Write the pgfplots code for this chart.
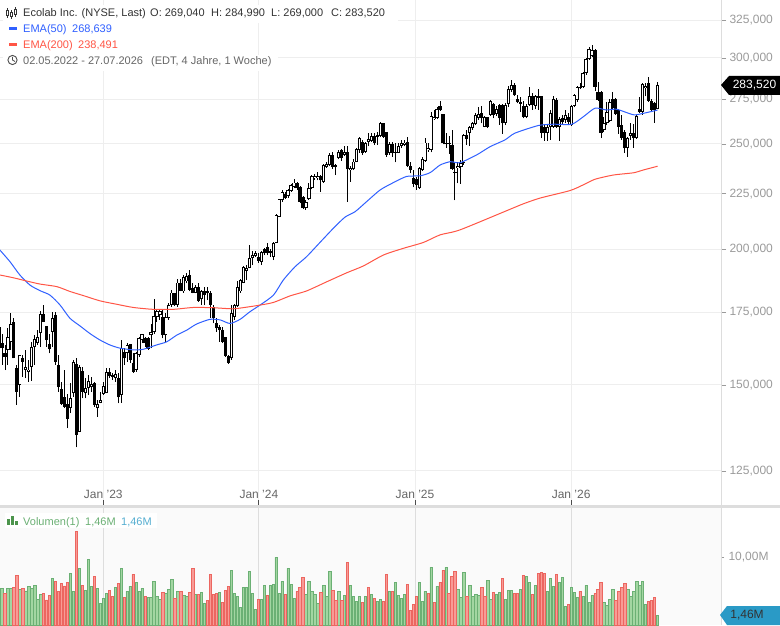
\documentclass[border=0pt]{standalone}
\usepackage{pgfplots}
\pgfplotsset{compat=1.18}
\usepackage{pgfplotstable}
\usepackage{fontspec}
\setmainfont{Liberation Sans}
\definecolor{lab}{HTML}{9A9A9A}
\definecolor{gridc}{HTML}{EEEEEE}
\definecolor{bandc}{HTML}{DDDDDD}
\definecolor{emab}{HTML}{3060FF}
\definecolor{emar}{HTML}{FF5545}
\definecolor{gfill}{HTML}{A3D6A2}
\definecolor{gline}{HTML}{6BB074}
\definecolor{rfill}{HTML}{F89B96}
\definecolor{rline}{HTML}{EC6660}
\definecolor{teal}{HTML}{2A9AC6}
\pgfplotstableread{
k o h l c
0 169.7 174.0 160.4 162.1
1 163.9 167.3 156.5 162.1
2 160.4 163.3 154.8 159.3
3 161.6 169.1 156.5 166.0
4 164.4 174.6 161.6 170.7
5 171.5 172.8 158.7 158.7
6 155.4 156.5 143.8 147.9
7 150.0 159.7 146.3 159.7
8 159.0 159.7 152.7 157.6
9 155.0 161.6 152.2 155.7
10 154.2 158.2 151.1 155.0
11 155.9 164.4 151.4 162.7
12 162.7 166.7 156.5 165.4
13 164.1 168.5 163.3 166.2
14 167.5 175.6 162.7 174.2
15 174.2 177.7 171.6 171.6
16 170.0 170.0 162.7 165.0
17 163.6 167.3 160.4 161.8
18 167.9 175.2 162.7 172.8
19 174.0 175.2 156.5 157.6
20 156.5 159.7 147.9 149.3
21 148.6 151.1 143.8 144.1
22 146.3 154.8 142.8 143.3
23 144.1 147.2 136.9 139.5
24 142.8 150.5 141.3 145.8
25 147.4 158.2 146.3 157.6
26 156.7 159.0 131.4 134.9
27 135.9 156.5 135.9 155.9
28 154.6 155.9 145.8 147.9
29 147.4 152.1 145.8 149.0
30 149.0 153.2 146.9 151.4
31 149.3 152.7 147.9 150.2
32 150.7 151.1 143.3 143.8
33 142.8 145.3 140.3 144.1
34 144.5 147.9 144.3 145.3
35 147.2 151.1 146.9 149.7
36 147.4 155.4 147.4 154.2
37 154.2 155.4 152.2 152.9
38 153.2 153.7 151.6 152.5
39 152.2 154.8 151.1 153.5
40 152.2 153.7 144.3 146.1
41 146.9 165.0 144.5 162.1
42 161.0 162.1 156.5 158.7
43 160.6 163.9 157.6 163.3
44 163.6 163.6 157.1 158.0
45 157.1 160.4 153.9 154.2
46 155.0 161.0 154.2 160.4
47 159.9 165.9 159.3 165.6
48 165.0 167.3 163.9 167.0
49 165.6 165.9 162.7 163.9
50 165.6 165.9 161.6 161.8
51 166.7 170.7 162.1 167.7
52 167.7 179.9 167.3 173.6
53 173.4 176.0 171.6 175.5
54 174.0 175.8 172.2 175.6
55 173.4 175.8 165.6 166.7
56 166.7 174.6 164.4 173.2
57 172.8 178.3 172.2 177.7
58 177.7 183.5 177.1 182.5
59 182.5 182.5 177.3 177.7
60 177.7 187.7 177.1 186.4
61 186.1 187.7 182.9 183.2
62 182.9 189.4 182.5 188.7
63 186.8 190.1 186.1 189.0
64 189.4 191.4 182.9 183.5
65 184.2 186.1 182.2 182.5
66 182.5 185.5 182.2 184.8
67 184.5 186.1 179.0 179.3
68 179.9 183.5 177.7 182.9
69 182.9 184.5 177.7 181.5
70 182.9 184.8 179.6 182.2
71 182.5 182.9 172.8 177.7
72 177.1 177.7 170.9 172.8
73 171.2 172.8 167.9 169.1
74 169.5 170.3 164.4 168.5
75 168.7 169.5 163.9 164.4
76 165.9 165.9 159.3 159.5
77 159.5 159.7 156.9 157.3
78 158.7 177.7 158.2 174.6
79 173.4 178.2 172.2 177.6
80 177.2 186.8 177.0 184.5
81 182.9 187.7 182.5 187.4
82 186.4 193.0 186.1 192.5
83 191.1 193.4 187.4 192.1
84 192.1 201.8 192.1 196.4
85 196.2 199.3 193.4 197.6
86 197.3 199.3 196.9 198.3
87 196.9 198.3 194.4 195.2
88 194.8 199.3 193.4 199.0
89 200.0 200.4 197.6 198.3
90 201.1 202.6 197.6 198.3
91 199.4 200.0 196.9 198.3
92 196.9 203.3 195.5 202.6
93 202.6 215.6 202.6 215.1
94 214.3 222.7 214.3 222.4
95 222.1 226.8 221.3 226.0
96 224.9 226.0 222.4 222.9
97 223.7 227.1 222.9 226.8
98 226.5 229.7 226.0 229.2
99 228.4 232.0 227.6 230.4
100 230.0 230.9 226.8 227.6
101 228.4 228.7 220.6 221.3
102 223.4 223.7 217.7 218.2
103 218.2 221.8 217.4 221.0
104 222.4 230.0 222.1 227.6
105 227.6 234.1 227.1 233.7
106 232.5 234.6 231.7 233.7
107 232.5 235.8 231.4 233.7
108 233.7 234.1 226.0 231.4
109 230.9 239.6 230.4 238.9
110 238.0 240.9 237.5 239.6
111 239.1 245.4 238.5 244.3
112 244.3 245.6 237.2 238.0
113 239.1 239.6 234.0 238.0
114 242.5 246.9 242.0 246.0
115 246.6 247.3 241.3 242.5
116 244.3 248.7 243.8 245.9
117 246.0 249.0 221.3 236.9
118 236.6 238.5 230.9 237.8
119 236.9 242.0 236.6 240.9
120 240.7 247.8 240.4 247.3
121 246.9 253.6 245.2 253.1
122 251.3 252.2 244.3 245.2
123 246.0 251.3 245.2 250.4
124 251.3 256.0 248.7 252.6
125 251.8 256.0 251.3 254.4
126 254.4 256.0 249.5 250.8
127 254.0 256.7 249.5 254.9
128 254.4 262.2 253.6 261.2
129 261.5 261.5 253.4 254.0
130 256.7 256.7 243.4 244.3
131 245.2 251.3 244.3 250.0
132 250.0 251.3 243.4 245.2
133 245.2 250.4 240.4 246.0
134 245.5 250.4 245.2 249.0
135 249.0 252.2 247.8 250.4
136 249.5 252.2 248.7 250.8
137 251.0 253.6 238.0 238.5
138 238.5 240.4 234.9 236.6
139 232.5 236.6 228.0 229.7
140 232.0 233.0 226.8 229.2
141 227.6 237.9 227.4 237.4
142 236.6 243.4 236.2 242.0
143 241.3 253.1 240.9 250.8
144 246.6 250.4 246.0 247.8
145 246.9 267.7 245.6 265.2
146 263.5 268.7 263.1 264.8
147 264.0 270.6 263.5 269.1
148 271.0 273.9 268.3 268.7
149 266.3 266.7 249.8 250.4
150 249.8 255.8 247.9 250.8
151 250.8 254.3 244.9 249.8
152 249.5 257.6 236.6 236.9
153 235.4 240.9 221.8 235.8
154 237.6 240.9 230.0 238.6
155 238.2 241.7 229.7 240.0
156 240.0 255.4 239.2 254.9
157 254.9 257.6 249.6 252.6
158 256.1 259.5 248.9 259.0
159 258.4 262.2 257.6 261.2
160 260.8 266.8 260.2 265.9
161 264.0 270.2 263.1 266.4
162 267.1 271.0 261.2 264.0
163 259.4 265.2 259.0 264.5
164 264.5 265.0 258.5 259.4
165 265.9 274.5 265.4 274.1
166 272.1 272.5 264.0 265.9
167 266.4 271.0 265.4 269.1
168 271.6 272.1 260.4 264.0
169 271.6 272.1 255.4 261.2
170 261.6 272.5 260.2 271.6
171 272.1 282.6 270.6 280.8
172 280.4 286.4 279.4 283.4
173 283.4 284.4 276.9 277.1
174 274.9 277.5 272.5 273.2
175 272.3 275.9 267.7 273.0
176 271.0 273.6 264.0 264.9
177 264.9 272.1 264.0 271.0
178 271.6 282.4 271.0 276.9
179 276.9 278.4 268.7 271.6
180 271.0 277.5 269.1 276.9
181 275.5 280.8 268.7 276.5
182 276.9 276.9 253.1 256.0
183 259.4 260.2 251.8 256.0
184 256.0 260.2 251.8 259.4
185 259.0 268.7 252.2 266.8
186 259.4 276.9 258.5 274.9
187 274.5 275.5 258.5 259.4
188 259.4 264.5 251.8 263.5
189 264.0 265.9 260.2 262.2
190 263.1 268.7 261.6 265.9
191 264.5 266.8 260.2 262.2
192 260.2 271.6 259.6 271.0
193 271.0 278.0 270.2 277.5
194 274.5 282.8 273.5 282.0
195 281.4 284.8 280.8 282.0
196 282.0 291.5 281.4 290.8
197 290.4 299.9 289.4 299.2
198 299.2 307.0 298.8 305.6
199 301.3 308.5 300.9 305.2
200 305.2 305.6 280.0 282.4
201 279.4 285.4 274.1 274.5
202 279.4 279.8 253.1 256.0
203 257.6 264.5 256.5 261.2
204 261.2 273.5 260.2 267.7
205 262.7 274.9 262.2 273.5
206 274.9 279.4 268.7 269.7
207 274.9 275.5 265.9 266.4
208 268.7 269.1 255.4 259.4
209 260.4 265.9 252.2 253.1
210 256.5 257.6 245.2 247.8
211 248.1 253.8 243.4 253.1
212 254.3 261.2 252.2 255.8
213 255.8 260.8 248.1 253.1
214 253.1 265.9 252.6 265.3
215 269.1 276.4 267.1 267.7
216 267.7 284.4 265.9 283.8
217 281.4 284.4 276.5 282.8
218 284.8 288.0 273.5 274.1
219 273.9 274.9 267.7 268.7
220 272.9 273.5 261.6 268.7
221 269.04 284.99 269.0 283.52
}\candles
\pgfplotstableread{
k v
0.3 199.7
3.7 194.8
7.0 189.4
10.4 185.4
13.8 183.2
17.1 181.5
20.5 177.7
23.8 172.8
27.2 170.0
30.5 167.3
33.9 165.0
37.2 163.3
40.6 162.2
45.1 161.6
48.4 161.8
52.9 163.3
56.3 164.4
59.6 166.7
63.0 168.5
66.3 170.7
70.8 172.4
74.2 172.2
77.5 170.9
80.9 172.4
84.2 175.2
87.6 177.7
92.1 181.5
95.4 187.4
99.3 192.7
103.2 196.9
107.7 202.9
112.2 209.1
116.1 214.1
119.5 216.6
123.4 221.3
127.9 226.8
132.4 230.4
136.8 233.4
141.3 233.7
144.7 235.3
148.0 239.1
151.4 240.8
154.7 240.3
160.3 244.3
164.8 248.6
169.8 252.2
173.1 255.8
181.0 260.0
186.0 260.7
192.2 260.7
196.1 264.9
200.0 269.7
203.9 268.7
207.3 269.1
212.9 266.0
216.2 266.8
221 268.639
}\emafifty
\pgfplotstableread{
k v
0.3 189.4
4.8 188.3
9.3 187.0
13.8 185.8
19.4 184.8
23.8 182.9
28.3 181.3
33.9 179.3
39.5 178.0
45.1 176.8
51.8 176.1
58.5 176.1
65.2 176.8
71.9 176.7
78.6 176.3
84.2 177.1
87.6 177.7
92.1 178.7
97.7 181.2
103.2 183.1
110 186.7
116.7 190.3
122.3 193.1
129 197.6
135.7 200.4
142.4 202.9
148 206.2
154.7 208.4
171.5 217.7
175.9 220.2
181.5 222.9
191.6 226.5
196.1 229.3
200 232.0
206.2 234.1
212.9 235.2
216.2 236.6
221 238.491
}\ematwohundred
\pgfplotstableread{
k v
1 5.39
3 5.39
4 5.39
7 5.25
9 5.00
10 5.69
11 5.39
12 5.83
13 3.77
14 4.51
18 6.86
24 7.60
25 4.95
27 8.33
29 5.10
30 9.66
31 5.69
33 5.39
34 3.19
35 3.92
36 4.66
39 5.54
41 8.33
43 4.95
44 5.69
46 6.27
47 4.95
48 5.39
50 4.07
51 4.07
52 6.42
53 4.22
54 3.77
56 4.66
57 5.25
58 6.72
60 4.95
62 4.36
63 4.22
66 4.51
68 4.80
69 3.19
74 4.80
78 8.04
79 4.66
80 4.22
81 2.60
82 5.54
83 5.54
84 7.89
85 4.66
86 2.30
88 3.77
89 5.83
91 5.83
92 5.98
93 9.95
94 4.66
95 6.42
97 8.33
98 5.98
99 3.92
103 4.51
104 6.42
105 4.95
106 4.51
107 3.19
109 5.83
110 4.22
111 7.89
114 4.95
116 4.36
118 5.83
119 4.22
120 3.48
121 4.22
123 4.22
125 4.51
127 3.48
128 3.77
131 4.95
133 6.27
134 4.36
135 3.92
136 4.51
141 6.27
142 3.48
143 4.95
145 8.48
147 5.69
150 8.48
154 5.25
155 4.07
156 7.75
158 5.83
159 4.22
160 4.51
161 4.36
164 6.57
165 3.77
167 4.51
168 4.80
170 3.77
171 5.10
172 5.10
175 5.25
177 7.16
178 6.27
180 5.83
184 4.95
185 6.86
186 5.69
188 6.27
189 7.01
190 2.75
192 5.54
193 4.80
194 4.07
196 4.22
197 5.83
198 3.33
199 4.36
203 3.33
204 2.89
205 3.77
206 5.25
211 5.25
212 4.22
213 4.95
214 6.42
215 5.83
216 6.42
217 3.04
221 1.46
}\volup
\pgfplotstableread{
k v
2 4.66
5 5.54
6 7.30
8 5.39
15 4.66
16 3.68
17 4.36
19 6.42
20 4.95
21 6.13
22 5.74
23 6.27
26 13.77
28 5.83
32 7.16
37 5.10
38 4.22
40 6.13
42 4.07
45 7.45
49 4.22
55 4.80
59 3.92
61 4.95
64 4.80
65 8.33
67 4.51
70 3.63
71 7.45
72 4.51
73 4.66
75 3.33
76 5.10
77 5.69
87 3.77
90 4.36
96 4.51
100 4.95
101 5.54
102 7.01
108 4.80
112 5.10
113 3.63
115 3.63
117 9.22
122 3.33
124 5.54
126 3.92
129 3.48
130 7.45
132 4.95
137 5.98
138 2.16
139 3.04
140 4.22
144 4.66
146 3.33
148 6.27
149 8.04
151 4.66
152 7.16
153 7.89
157 4.22
162 5.54
163 4.22
166 4.80
169 6.86
173 4.66
174 4.66
176 7.30
179 4.51
181 7.60
182 7.75
183 7.60
187 7.45
191 3.04
195 4.95
200 4.66
201 5.25
202 6.27
207 3.63
208 4.95
209 5.54
210 6.13
218 3.48
219 3.63
220 4.07
}\voldown
\newcommand{\fs}{\fontsize{11}{14}\selectfont}
\begin{document}
\begin{tikzpicture}[x=1pt,y=1pt]
\path[use as bounding box] (0,0) rectangle (780,625);
\begin{axis}[
  at={(0pt,120pt)}, anchor=south west, scale only axis, width=721pt, height=505pt,
  ymode=log, log basis y=10,
  xmin=0.336, xmax=242.28, ymin=116.31, ymax=339.28,
  axis line style={draw=none},
  xtick={35,87.2,139.6,192},
  xticklabels={Jan '23,Jan '24,Jan '25,Jan '26},
  ytick={125,150,175,200,225,250,275,300,325},
  minor ytick={},
  yticklabels={{125,000},{150,000},{175,000},{200,000},{225,000},{250,000},{275,000},{300,000},{325,000}},
  ytick pos=right, yticklabel pos=right,
  xtick pos=bottom,
  xmajorgrids, ymajorgrids,
  grid style={gridc, line width=1pt},
  tick style={line width=0.8pt},
  major tick length=5pt,
  xtick align=inside, ytick align=outside,
  xtick style={black!70},
  ytick style={lab},
  xticklabel style={font=\fontsize{12}{14}\selectfont, text=black!60, anchor=center, yshift=11pt},
  yticklabel style={font=\fontsize{12}{14}\selectfont, text=lab, anchor=west, xshift=0pt},
  clip=true,
]
\addplot[draw=none, no markers, forget plot, error bars/.cd, y dir=plus, y explicit, error mark=none, error bar style={draw=black, line width=0.9pt}]
 table[x=k, y=l, y error plus expr={\thisrow{h}-\thisrow{l}}] {\candles};
\addplot[draw=none, no markers, forget plot, error bars/.cd, y dir=plus, y explicit, error mark=none, error bar style={draw=black, line width=3.2pt}]
 table[x=k, y expr={min(\thisrow{o},\thisrow{c})}, y error plus expr={abs(\thisrow{o}-\thisrow{c})}] {\candles};
\addplot[draw=none, no markers, forget plot, error bars/.cd, y dir=plus, y explicit, error mark=none, error bar style={draw=white, line width=1.3pt}]
 table[x=k, y expr={\thisrow{o}*1.002}, y error plus expr={max(\thisrow{c}/1.002-\thisrow{o}*1.002,0)}] {\candles};
\addplot[emab, line width=1pt, forget plot, smooth, tension=0.4] table[x=k,y=v] {\emafifty};
\addplot[emar, line width=1pt, forget plot, smooth, tension=0.4] table[x=k,y=v] {\ematwohundred};
\end{axis}
\begin{axis}[
  at={(0pt,0pt)}, anchor=south west, scale only axis, width=721pt, height=117pt,
  xmin=0.336, xmax=242.28, ymin=0, ymax=17.2,
  axis line style={draw=none},
  axis background/.style={fill=black!2},
  xtick={35,87.2,139.6,192}, xticklabels={},
  ytick={10}, yticklabel={10{,}00M},
  ytick pos=right, yticklabel pos=right,
  xmajorgrids, grid style={bandc, line width=1pt},
  xtick style={draw=none},
  ytick style={lab, line width=0.8pt}, major tick length=3pt, ytick align=outside,
  yticklabel style={font=\fontsize{12}{14}\selectfont, text=lab, anchor=west, xshift=1pt},
  ybar, bar width=2.3pt, bar shift=0pt,
  clip=true,
]
\addplot[draw=gline, fill=gfill, line width=0.7pt, forget plot] table[x=k,y=v] {\volup};
\addplot[draw=rline, fill=rfill, line width=0.7pt, forget plot] table[x=k,y=v] {\voldown};
\end{axis}
% panel separators and frame
\fill[bandc] (0,117) rectangle (780,120);
\draw[bandc, line width=1pt] (721,0) -- (721,625);
% price tag
\fill[black] (721,540) -- (729,549) -- (780,549) -- (780,530) -- (729,530) -- cycle;
\node[anchor=center, text=white, font=\fontsize{12}{14}\selectfont] at (754.5,539.5) {283,520};
% volume tag
\fill[teal] (720,10) -- (727,19) -- (780,19) -- (780,0) -- (727,0) -- cycle;
\node[anchor=center, text=black!80, font=\fontsize{12}{14}\selectfont] at (747,9.5) {1,46M};
% header box
\fill[white] (3,554) rectangle (278,570);
\fill[white] (3,570) rectangle (152,586);
\fill[white] (3,586) rectangle (152,602);
\fill[white] (3,602) rectangle (398,620);
% icon
\foreach \xx/\ya/\yb in {7/607/617,11/606/615,15/608/618}{
  \draw[black!80, line width=0.7pt] (\xx,\ya) -- (\xx,\yb);
  \fill[white, draw=black!80, line width=0.6pt] (\xx-1.2,\ya+2.5) rectangle (\xx+1.2,\yb-2.5);
}
\node[anchor=base west, inner sep=0, text=black!80, font=\fs] at (23,608) {Ecolab Inc. (NYSE, Last)};
\node[anchor=base west, inner sep=0, text=black!80, font=\fs] at (150,608) {O: 269,040};
\node[anchor=base west, inner sep=0, text=black!80, font=\fs] at (211,608) {H: 284,990};
\node[anchor=base west, inner sep=0, text=black!80, font=\fs] at (271,608) {L: 269,000};
\node[anchor=base west, inner sep=0, text=black!80, font=\fs] at (331,608) {C: 283,520};
\fill[emab] (9,595) rectangle (17,598);
\node[anchor=base west, inner sep=0, text=emab, font=\fs] at (23,592) {EMA(50)};
\node[anchor=base west, inner sep=0, text=emab, font=\fs] at (72,592) {268,639};
\fill[emar] (9,579) rectangle (17,582);
\node[anchor=base west, inner sep=0, text=emar, font=\fs] at (23,576) {EMA(200)};
\node[anchor=base west, inner sep=0, text=emar, font=\fs] at (78,576) {238,491};
\draw[black!70, line width=0.9pt] (12.5,565) circle (4.6);
\draw[black!70, line width=0.8pt] (12.5,568) -- (12.5,565) -- (15,563.5);
\node[anchor=base west, inner sep=0, text=black!60, font=\fs] at (23,560) {02.05.2022 - 27.07.2026};
\node[anchor=base west, inner sep=0, text=black!60, font=\fs] at (151,560) {(EDT, 4 Jahre, 1 Woche)};
% volume header
\fill[white] (5,97) rectangle (157,112);
\fill[green!40!black!70] (7,100) rectangle (9.5,106);
\fill[green!40!black!70] (11,100) rectangle (13.5,109);
\fill[green!40!black!70] (15,100) rectangle (18,104);
\node[anchor=base west, inner sep=0, text=gline, font=\fs] at (23,100) {Volumen(1)};
\node[anchor=base west, inner sep=0, text=gline, font=\fs] at (85,100) {1,46M};
\node[anchor=base west, inner sep=0, text=teal!80, font=\fs] at (121,100) {1,46M};
\end{tikzpicture}
\end{document}
